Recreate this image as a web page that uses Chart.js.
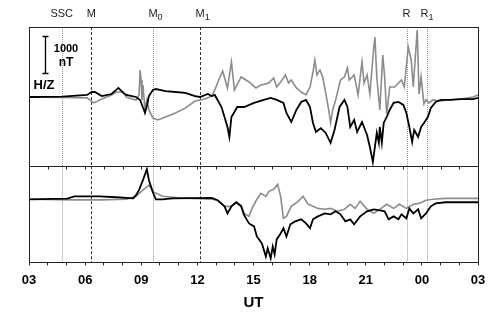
<!DOCTYPE html>
<html>
<head>
<meta charset="utf-8">
<script src="https://cdn.jsdelivr.net/npm/chart.js@4"></script>
<style>
    html, body { margin: 0; padding: 0; background: #fff; }
    #wrap { width: 498px; height: 316px; }
</style>
</head>
<body>
<div id="wrap"><canvas id="magChart" width="498" height="316"></canvas></div>
<script>
// time in UT hours (03 -> 27 = 03 next day), values in nT relative to quiet level
const topHTime = [3.00,4.79,6.10,6.36,6.52,6.89,7.41,7.78,8.04,8.20,8.72,8.94,9.04,9.20,9.30,9.41,9.62,9.78,10.30,10.83,11.35,11.88,12.14,12.56,12.77,12.93,13.29,13.45,13.61,13.71,13.82,13.98,14.13,14.50,15.03,15.55,15.92,16.24,16.60,16.76,17.02,17.29,17.55,17.81,18.02,18.18,18.34,18.60,18.86,19.12,19.33,19.60,19.86,20.02,20.17,20.38,20.54,20.80,21.07,21.22,21.38,21.49,21.59,21.70,21.75,21.86,21.96,22.12,22.28,22.49,22.75,23.01,23.17,23.33,23.48,23.59,23.80,23.96,24.11,24.32,24.48,24.74,25.01,25.53,26.06,26.74,27.00];
const topHVal = [0,10,55,135,135,25,80,245,110,55,0,-80,-215,-430,-245,25,190,215,160,135,110,25,0,80,25,55,-270,-540,-810,-1080,-540,-405,-270,-270,-160,-80,-25,-80,-160,-430,-675,-350,-135,-80,-270,-700,-945,-840,-970,-1240,-890,-270,-80,-270,-810,-620,-945,-675,-1025,-1350,-1755,-1350,-970,-1240,-810,-1240,-700,-540,-350,-160,-135,-215,-430,-810,-1215,-890,-1080,-810,-700,-540,-295,-135,-80,-80,-55,-55,-25];

const topZTime = [3.00,4.79,6.10,6.47,6.89,7.41,7.67,8.04,8.20,8.72,8.88,8.94,8.99,9.04,9.09,9.20,9.30,9.41,9.62,9.88,10.30,10.83,11.35,11.88,12.40,12.77,12.93,13.14,13.35,13.61,13.82,13.98,14.34,14.76,15.13,15.40,15.82,16.08,16.24,16.45,16.71,16.87,17.02,17.29,17.55,17.81,18.02,18.18,18.28,18.39,18.55,18.70,18.86,19.02,19.12,19.23,19.39,19.65,19.86,20.02,20.12,20.38,20.59,20.80,20.91,21.07,21.22,21.43,21.49,21.59,21.75,21.91,22.01,22.12,22.28,22.54,22.91,23.06,23.27,23.43,23.54,23.75,23.85,23.96,24.11,24.22,24.38,24.59,25.01,25.37,26.06,26.74,27.00];
const topZVal = [0,-15,-25,-160,-55,55,135,135,0,-80,55,730,460,-80,325,-350,-80,-350,-565,-620,-540,-430,-300,-110,-55,25,190,460,700,245,945,190,540,405,245,325,380,515,270,405,595,380,460,245,135,55,270,675,1000,595,730,540,110,-350,-700,-350,-80,460,540,785,460,595,55,945,380,595,80,1350,1620,540,-350,1135,540,-460,270,270,460,270,1350,1000,270,1810,80,540,-190,-80,-160,-80,-110,-80,-55,0,55];

const botHTime = [3.00,5.05,5.42,6.78,7.67,8.57,8.72,8.88,9.09,9.30,9.41,9.62,9.78,10.14,10.67,12.77,13.08,13.45,13.61,13.82,14.08,14.34,14.50,14.76,15.03,15.18,15.45,15.66,15.76,15.92,16.03,16.13,16.24,16.45,16.60,16.76,16.97,17.23,17.55,17.81,18.02,18.18,18.44,18.81,19.12,19.39,19.65,19.91,20.17,20.38,20.70,21.07,21.43,21.75,22.01,22.22,22.49,22.75,22.91,23.17,23.33,23.54,23.80,23.96,24.22,24.48,24.74,25.27,26.16,27.00];
const botHVal = [0,15,80,80,55,25,110,245,515,810,515,190,0,0,25,40,-25,-190,-380,-190,-80,-190,-430,-650,-730,-1000,-1190,-1540,-1320,-1590,-1270,-1485,-1080,-920,-780,-1000,-675,-595,-540,-650,-780,-540,-460,-380,-405,-325,-405,-595,-540,-675,-460,-325,-270,-300,-325,-540,-460,-540,-405,-515,-245,-380,-270,-515,-380,-190,-110,-80,-80,-80];

const botZTime = [3.00,5.42,6.78,8.20,8.72,9.09,9.41,9.67,10.14,10.98,11.72,12.77,13.08,13.45,13.61,13.82,14.08,14.34,14.50,14.76,14.92,15.18,15.40,15.66,15.82,16.08,16.29,16.45,16.60,16.76,17.02,17.39,17.65,17.92,18.18,18.44,18.81,19.12,19.49,19.86,20.17,20.43,20.70,21.07,21.43,21.75,22.12,22.49,22.80,23.17,23.54,23.85,24.22,24.59,25.27,27.00];
const botZVal = [0,-15,-15,0,80,245,380,190,80,40,25,0,-25,-190,-190,-190,-80,-160,-380,-460,-245,0,160,80,215,270,405,80,-515,-460,-190,-55,80,-135,-190,-245,-270,-245,-325,-270,-135,-245,-55,-270,-380,-270,-135,-245,-135,-245,-135,-110,-25,0,25,25];

// event markers
const eventNames = ['SSC', 'M', 'M', 'M', 'R', 'R'];
const eventSubs = ['', '', '0', '1', '', '1'];
const eventHours = [4.75, 6.33, 9.63, 12.15, 23.18, 24.27];
const eventDark = [false, true, false, true, false, false];

const hourTicks = [];
for (let h = 3; h <= 27; h++) hourTicks.push(h);

function toPoints(t, v) {
    return t.map(function (x, i) { return { x: x, y: v[i] }; });
}

const FONT = '"Liberation Sans", Arial, sans-serif';

const panelDecor = {
    id: 'panelDecor',
    beforeDatasetsDraw(chart) {
        const { ctx, scales } = chart;
        ['yTop', 'yBot'].forEach(function (id) {
            const s = scales[id];
            eventHours.forEach(function (h, i) {
                const px = Math.round(scales.x.getPixelForValue(h)) + 0.5;
                ctx.save();
                ctx.strokeStyle = eventDark[i] ? '#333' : '#999';
                ctx.lineWidth = 1;
                ctx.setLineDash(eventDark[i] ? [3, 2] : [1, 1]);
                ctx.beginPath();
                ctx.moveTo(px, s.top);
                ctx.lineTo(px, s.bottom);
                ctx.stroke();
                ctx.restore();
            });
        });
    },
    afterDraw(chart) {
        const { ctx, chartArea, scales } = chart;
        ctx.save();
        // panel frames
        ctx.strokeStyle = '#222';
        ctx.lineWidth = 1;
        ['yTop', 'yBot'].forEach(function (id) {
            const s = scales[id];
            ctx.strokeRect(Math.round(chartArea.left) + 0.5, Math.round(s.top) + 0.5,
                Math.round(chartArea.right - chartArea.left), Math.round(s.bottom - s.top));
        });
        // small hour ticks under the divider line
        const divY = Math.round(scales.yBot.top) + 0.5;
        hourTicks.forEach(function (h) {
            const px = Math.round(scales.x.getPixelForValue(h)) + 0.5;
            ctx.beginPath();
            ctx.moveTo(px, divY);
            ctx.lineTo(px, divY + 3);
            ctx.stroke();
        });

        // event labels above the top panel
        ctx.fillStyle = '#222';
        ctx.textBaseline = 'middle';
        eventNames.forEach(function (name, i) {
            const px = scales.x.getPixelForValue(eventHours[i]);
            ctx.font = '11px ' + FONT;
            const w = ctx.measureText(name).width;
            ctx.font = '9px ' + FONT;
            const sw = eventSubs[i] ? ctx.measureText(eventSubs[i]).width : 0;
            let x0 = px - w / 2;
            if (name === 'R' && eventSubs[i]) x0 = px - (w + sw) / 2;
            ctx.font = '11px ' + FONT;
            ctx.textAlign = 'left';
            ctx.fillText(name, x0, 14);
            if (eventSubs[i]) {
                ctx.font = '9px ' + FONT;
                ctx.fillText(eventSubs[i], x0 + w, 18);
            }
        });

        // 1000 nT scale bar
        const yt = scales.yTop;
        const bx = 45.5;
        const b0 = Math.round(yt.getPixelForValue(650)) + 0.5;
        const b1 = Math.round(yt.getPixelForValue(1650)) + 0.5;
        ctx.strokeStyle = '#000';
        ctx.lineWidth = 1.3;
        ctx.beginPath();
        ctx.moveTo(bx, b0); ctx.lineTo(bx, b1);
        ctx.moveTo(bx - 3, b0); ctx.lineTo(bx + 3, b0);
        ctx.moveTo(bx - 3, b1); ctx.lineTo(bx + 3, b1);
        ctx.stroke();
        ctx.fillStyle = '#000';
        ctx.textAlign = 'center';
        ctx.font = 'bold 11px ' + FONT;
        ctx.fillText('1000', 66, 49);
        ctx.font = 'bold 12px ' + FONT;
        ctx.fillText('nT', 66, 63);
        ctx.font = 'bold 13px ' + FONT;
        ctx.fillText('H/Z', 44, 85);
        ctx.restore();
    }
};

const ctx = document.getElementById('magChart');

new Chart(ctx, {
    type: 'line',
    data: {
        datasets: [
            { label: 'H', data: toPoints(topHTime, topHVal), yAxisID: 'yTop', borderColor: '#000', borderWidth: 1.8 },
            { label: 'H', data: toPoints(botHTime, botHVal), yAxisID: 'yBot', borderColor: '#000', borderWidth: 1.8 },
            { label: 'Z', data: toPoints(topZTime, topZVal), yAxisID: 'yTop', borderColor: '#8c8c8c', borderWidth: 1.6 },
            { label: 'Z', data: toPoints(botZTime, botZVal), yAxisID: 'yBot', borderColor: '#8c8c8c', borderWidth: 1.6 }
        ]
    },
    options: {
        responsive: false,
        animation: false,
        devicePixelRatio: 1,
        layout: { padding: { left: 21, right: 20, top: 27, bottom: 4 } },
        elements: { point: { radius: 0 }, line: { tension: 0, fill: false } },
        plugins: { legend: { display: false }, tooltip: { enabled: false } },
        scales: {
            x: {
                type: 'linear',
                min: 3,
                max: 27,
                afterBuildTicks: function (scale) {
                    scale.ticks = hourTicks.map(function (h) { return { value: h }; });
                },
                ticks: {
                    autoSkip: false,
                    maxRotation: 0,
                    padding: 7,
                    color: '#000',
                    font: { family: FONT, size: 13, weight: 'bold' },
                    callback: function (v) {
                        if (v % 3 !== 0) return '';
                        const h = v % 24;
                        return (h < 10 ? '0' : '') + h;
                    }
                },
                grid: { display: true, drawOnChartArea: false, tickLength: 3, color: '#222' },
                border: { display: false },
                title: {
                    display: true,
                    text: 'UT',
                    color: '#000',
                    padding: { top: 0, bottom: 2 },
                    font: { family: FONT, size: 15, weight: 'bold', lineHeight: 1 }
                }
            },
            // stacked panels: the first scale in the stack is placed at the bottom
            yBot: {
                type: 'linear',
                position: 'left',
                stack: 'panels',
                stackWeight: 96,
                min: -1700,
                max: 890,
                ticks: { display: false },
                grid: { display: false },
                border: { display: false }
            },
            yTop: {
                type: 'linear',
                position: 'left',
                stack: 'panels',
                stackWeight: 139,
                min: -1870,
                max: 1890,
                ticks: { display: false },
                grid: { display: false },
                border: { display: false }
            }
        }
    },
    plugins: [panelDecor]
});
</script>
</body>
</html>
